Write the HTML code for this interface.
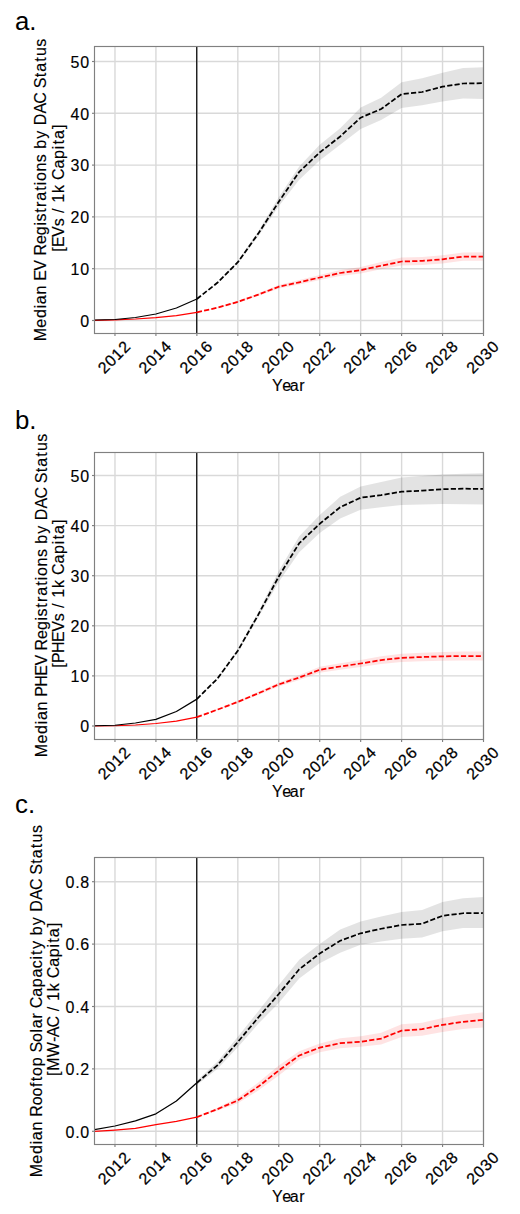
<!DOCTYPE html>
<html><head><meta charset="utf-8"><title>DAC Status Figure</title>
<style>
html,body{margin:0;padding:0;background:#fff;}
body{width:520px;height:1214px;overflow:hidden;}
svg{display:block;font-family:"Liberation Sans",sans-serif;}
text{stroke:#000;stroke-width:0.14;}
.xt{stroke-width:0.25;}
.g{stroke:#d9d9d9;stroke-width:1.4;fill:none;}
.gb{fill:#000;fill-opacity:0.11;stroke:none;}
.pb{fill:#f00;fill-opacity:0.11;stroke:none;}
.v{stroke:#000;stroke-width:1.2;}
.rs{fill:none;stroke:#ff0000;stroke-width:1.25;stroke-linejoin:round;}
.ks{fill:none;stroke:#000;stroke-width:1.25;stroke-linejoin:round;}
.rd{fill:none;stroke:#ff0000;stroke-width:1.75;stroke-dasharray:5.2 2.2;stroke-linejoin:round;}
.kd{fill:none;stroke:#000;stroke-width:1.75;stroke-dasharray:5.2 2.2;stroke-linejoin:round;}
.sp{fill:none;stroke:#808080;stroke-width:1.15;}
.tk{stroke:#808080;stroke-width:1.15;}
.yt{font-size:16px;fill:#000;}
.xt{font-size:16px;fill:#000;}
.xl{font-size:16px;fill:#000;}
.yl{font-size:16px;fill:#000;}
.lt{font-size:25.8px;fill:#000;stroke-width:0;}
</style></head>
<body>
<svg width="520" height="1214" viewBox="0 0 520 1214">
<rect x="0" y="0" width="520" height="1214" fill="#fff"/>
<line x1="114.97" y1="46.5" x2="114.97" y2="333.5" class="g"/>
<line x1="155.92" y1="46.5" x2="155.92" y2="333.5" class="g"/>
<line x1="196.87" y1="46.5" x2="196.87" y2="333.5" class="g"/>
<line x1="237.82" y1="46.5" x2="237.82" y2="333.5" class="g"/>
<line x1="278.76" y1="46.5" x2="278.76" y2="333.5" class="g"/>
<line x1="319.71" y1="46.5" x2="319.71" y2="333.5" class="g"/>
<line x1="360.66" y1="46.5" x2="360.66" y2="333.5" class="g"/>
<line x1="401.61" y1="46.5" x2="401.61" y2="333.5" class="g"/>
<line x1="442.55" y1="46.5" x2="442.55" y2="333.5" class="g"/>
<line x1="483.50" y1="46.5" x2="483.50" y2="333.5" class="g"/>
<line x1="94.5" y1="320.50" x2="483.5" y2="320.50" class="g"/>
<line x1="94.5" y1="268.70" x2="483.5" y2="268.70" class="g"/>
<line x1="94.5" y1="216.90" x2="483.5" y2="216.90" class="g"/>
<line x1="94.5" y1="165.10" x2="483.5" y2="165.10" class="g"/>
<line x1="94.5" y1="113.30" x2="483.5" y2="113.30" class="g"/>
<line x1="94.5" y1="61.50" x2="483.5" y2="61.50" class="g"/>
<path d="M196.87,299.00 L217.34,282.30 L237.82,260.90 L258.29,231.00 L278.76,197.30 L299.24,166.40 L319.71,144.80 L340.18,128.30 L360.66,107.60 L381.13,97.80 L401.61,82.30 L422.08,78.30 L442.55,72.70 L463.03,67.90 L483.50,67.30 L483.50,99.00 L463.03,98.40 L442.55,101.50 L422.08,105.20 L401.61,107.90 L381.13,120.00 L360.66,129.00 L340.18,144.80 L319.71,160.40 L299.24,179.80 L278.76,206.30 L258.29,236.20 L237.82,263.50 L217.34,283.30 L196.87,299.00Z" class="gb"/>
<path d="M196.87,312.30 L217.34,307.20 L237.82,300.90 L258.29,293.30 L278.76,285.00 L299.24,280.10 L319.71,274.90 L340.18,270.10 L360.66,267.00 L381.13,262.10 L401.61,257.60 L422.08,256.90 L442.55,255.20 L463.03,252.40 L483.50,252.20 L483.50,260.80 L463.03,260.80 L442.55,263.40 L422.08,264.90 L401.61,265.40 L381.13,269.30 L360.66,273.40 L340.18,275.90 L319.71,280.10 L299.24,284.50 L278.76,288.40 L258.29,295.90 L237.82,302.90 L217.34,308.20 L196.87,312.30Z" class="pb"/>
<line x1="196.75" y1="46.5" x2="196.75" y2="333.5" class="v"/>
<polyline points="94.50,320.30 114.97,319.80 135.45,319.00 155.92,317.60 176.39,315.60 196.87,312.30" class="rs"/>
<polyline points="196.87,312.30 217.34,307.70 237.82,301.90 258.29,294.60 278.76,286.70 299.24,282.30 319.71,277.50 340.18,273.00 360.66,270.20 381.13,265.70 401.61,261.50 422.08,260.90 442.55,259.30 463.03,256.60 483.50,256.50" class="rd"/>
<polyline points="94.50,320.00 114.97,319.50 135.45,317.50 155.92,314.00 176.39,308.00 196.87,299.00" class="ks"/>
<polyline points="196.87,299.00 217.34,282.80 237.82,262.20 258.29,233.60 278.76,201.80 299.24,171.80 319.71,152.50 340.18,136.50 360.66,117.70 381.13,109.00 401.61,94.10 422.08,92.00 442.55,86.70 463.03,83.50 483.50,83.20" class="kd"/>
<rect x="94.5" y="46.5" width="389.0" height="287.0" class="sp"/>
<line x1="114.97" y1="333.5" x2="114.97" y2="336.0" class="tk"/>
<line x1="155.92" y1="333.5" x2="155.92" y2="336.0" class="tk"/>
<line x1="196.87" y1="333.5" x2="196.87" y2="336.0" class="tk"/>
<line x1="237.82" y1="333.5" x2="237.82" y2="336.0" class="tk"/>
<line x1="278.76" y1="333.5" x2="278.76" y2="336.0" class="tk"/>
<line x1="319.71" y1="333.5" x2="319.71" y2="336.0" class="tk"/>
<line x1="360.66" y1="333.5" x2="360.66" y2="336.0" class="tk"/>
<line x1="401.61" y1="333.5" x2="401.61" y2="336.0" class="tk"/>
<line x1="442.55" y1="333.5" x2="442.55" y2="336.0" class="tk"/>
<line x1="483.50" y1="333.5" x2="483.50" y2="336.0" class="tk"/>
<line x1="92.0" y1="320.50" x2="94.5" y2="320.50" class="tk"/>
<line x1="92.0" y1="268.70" x2="94.5" y2="268.70" class="tk"/>
<line x1="92.0" y1="216.90" x2="94.5" y2="216.90" class="tk"/>
<line x1="92.0" y1="165.10" x2="94.5" y2="165.10" class="tk"/>
<line x1="92.0" y1="113.30" x2="94.5" y2="113.30" class="tk"/>
<line x1="92.0" y1="61.50" x2="94.5" y2="61.50" class="tk"/>
<text x="80.19" y="326.70" class="yt">0</text>
<text x="70.47 80.19" y="274.90" class="yt">10</text>
<text x="70.47 80.19" y="223.10" class="yt">20</text>
<text x="70.47 80.19" y="171.30" class="yt">30</text>
<text x="70.47 80.19" y="119.50" class="yt">40</text>
<text x="70.47 80.19" y="67.70" class="yt">50</text>
<text transform="translate(113.87,357.20) rotate(-45)" x="-19.03 -9.31 0.41 10.13" y="5.60" class="xt">2012</text>
<text transform="translate(154.82,357.20) rotate(-45)" x="-19.03 -9.31 0.41 10.13" y="5.60" class="xt">2014</text>
<text transform="translate(195.77,357.20) rotate(-45)" x="-19.03 -9.31 0.41 10.13" y="5.60" class="xt">2016</text>
<text transform="translate(236.72,357.20) rotate(-45)" x="-19.03 -9.31 0.41 10.13" y="5.60" class="xt">2018</text>
<text transform="translate(277.66,357.20) rotate(-45)" x="-19.03 -9.31 0.41 10.13" y="5.60" class="xt">2020</text>
<text transform="translate(318.61,357.20) rotate(-45)" x="-19.03 -9.31 0.41 10.13" y="5.60" class="xt">2022</text>
<text transform="translate(359.56,357.20) rotate(-45)" x="-19.03 -9.31 0.41 10.13" y="5.60" class="xt">2024</text>
<text transform="translate(400.51,357.20) rotate(-45)" x="-19.03 -9.31 0.41 10.13" y="5.60" class="xt">2026</text>
<text transform="translate(441.45,357.20) rotate(-45)" x="-19.03 -9.31 0.41 10.13" y="5.60" class="xt">2028</text>
<text transform="translate(482.40,357.20) rotate(-45)" x="-19.03 -9.31 0.41 10.13" y="5.60" class="xt">2030</text>
<text x="272.07 282.32 289.67 299.28" y="390.50" class="xl">Year</text>
<text transform="translate(45.9,190.0) rotate(-90)" x="-151.31 -137.70 -128.06 -118.36 -114.16 -104.55 -94.99 -90.78 -80.63 -69.79 -65.54 -54.11 -45.17 -35.46 -31.52 -22.70 -16.95 -10.84 -0.87 4.74 8.93 18.53 27.88 36.13 41.25 51.15 59.94 64.78 76.43 86.38 97.49 101.72 112.75 118.28 128.25 133.93 143.29" y="0.00" class="yl">Median EV Registrations by DAC Status</text>
<text transform="translate(63.75,188.2) rotate(-90)" x="-63.60 -58.84 -48.69 -38.07 -29.82 -24.77 -19.72 -14.59 -4.77 3.92 8.20 19.63 29.25 38.96 43.68 49.20 59.16" y="0.00" class="yl">[EVs / 1k Capita]</text>
<text x="15" y="30" class="lt">a.</text>
<line x1="114.97" y1="452.5" x2="114.97" y2="739.5" class="g"/>
<line x1="155.92" y1="452.5" x2="155.92" y2="739.5" class="g"/>
<line x1="196.87" y1="452.5" x2="196.87" y2="739.5" class="g"/>
<line x1="237.82" y1="452.5" x2="237.82" y2="739.5" class="g"/>
<line x1="278.76" y1="452.5" x2="278.76" y2="739.5" class="g"/>
<line x1="319.71" y1="452.5" x2="319.71" y2="739.5" class="g"/>
<line x1="360.66" y1="452.5" x2="360.66" y2="739.5" class="g"/>
<line x1="401.61" y1="452.5" x2="401.61" y2="739.5" class="g"/>
<line x1="442.55" y1="452.5" x2="442.55" y2="739.5" class="g"/>
<line x1="483.50" y1="452.5" x2="483.50" y2="739.5" class="g"/>
<line x1="94.5" y1="726.00" x2="483.5" y2="726.00" class="g"/>
<line x1="94.5" y1="675.90" x2="483.5" y2="675.90" class="g"/>
<line x1="94.5" y1="625.80" x2="483.5" y2="625.80" class="g"/>
<line x1="94.5" y1="575.70" x2="483.5" y2="575.70" class="g"/>
<line x1="94.5" y1="525.60" x2="483.5" y2="525.60" class="g"/>
<line x1="94.5" y1="475.50" x2="483.5" y2="475.50" class="g"/>
<path d="M196.87,699.10 L217.34,677.90 L237.82,648.90 L258.29,611.90 L278.76,571.00 L299.24,536.20 L319.71,515.00 L340.18,496.80 L360.66,486.40 L381.13,482.10 L401.61,477.50 L422.08,476.00 L442.55,474.50 L463.03,473.80 L483.50,473.30 L483.50,504.40 L463.03,504.20 L442.55,503.90 L422.08,504.50 L401.61,505.00 L381.13,507.20 L360.66,509.80 L340.18,518.40 L319.71,533.00 L299.24,552.30 L278.76,582.00 L258.29,617.50 L237.82,652.50 L217.34,679.50 L196.87,699.10Z" class="gb"/>
<path d="M196.87,717.10 L217.34,709.10 L237.82,700.80 L258.29,691.70 L278.76,682.40 L299.24,674.90 L319.71,666.80 L340.18,663.20 L360.66,659.90 L381.13,656.20 L401.61,653.70 L422.08,652.70 L442.55,651.90 L463.03,651.60 L483.50,651.60 L483.50,660.60 L463.03,660.60 L442.55,660.70 L422.08,661.30 L401.61,662.10 L381.13,664.00 L360.66,667.10 L340.18,669.80 L319.71,672.80 L299.24,680.10 L278.76,686.40 L258.29,694.90 L237.82,703.00 L217.34,710.30 L196.87,717.10Z" class="pb"/>
<line x1="196.75" y1="452.5" x2="196.75" y2="739.5" class="v"/>
<polyline points="94.50,726.00 114.97,725.75 135.45,725.00 155.92,723.50 176.39,721.10 196.87,717.10" class="rs"/>
<polyline points="196.87,717.10 217.34,709.70 237.82,701.90 258.29,693.30 278.76,684.40 299.24,677.50 319.71,669.80 340.18,666.50 360.66,663.50 381.13,660.10 401.61,657.90 422.08,657.00 442.55,656.30 463.03,656.10 483.50,656.10" class="rd"/>
<polyline points="94.50,725.75 114.97,725.25 135.45,723.00 155.92,719.30 176.39,711.50 196.87,699.10" class="ks"/>
<polyline points="196.87,699.10 217.34,678.70 237.82,650.70 258.29,614.70 278.76,576.50 299.24,543.20 319.71,523.80 340.18,507.20 360.66,497.70 381.13,495.10 401.61,491.70 422.08,490.60 442.55,489.20 463.03,488.70 483.50,488.90" class="kd"/>
<rect x="94.5" y="452.5" width="389.0" height="287.0" class="sp"/>
<line x1="114.97" y1="739.5" x2="114.97" y2="742.0" class="tk"/>
<line x1="155.92" y1="739.5" x2="155.92" y2="742.0" class="tk"/>
<line x1="196.87" y1="739.5" x2="196.87" y2="742.0" class="tk"/>
<line x1="237.82" y1="739.5" x2="237.82" y2="742.0" class="tk"/>
<line x1="278.76" y1="739.5" x2="278.76" y2="742.0" class="tk"/>
<line x1="319.71" y1="739.5" x2="319.71" y2="742.0" class="tk"/>
<line x1="360.66" y1="739.5" x2="360.66" y2="742.0" class="tk"/>
<line x1="401.61" y1="739.5" x2="401.61" y2="742.0" class="tk"/>
<line x1="442.55" y1="739.5" x2="442.55" y2="742.0" class="tk"/>
<line x1="483.50" y1="739.5" x2="483.50" y2="742.0" class="tk"/>
<line x1="92.0" y1="726.00" x2="94.5" y2="726.00" class="tk"/>
<line x1="92.0" y1="675.90" x2="94.5" y2="675.90" class="tk"/>
<line x1="92.0" y1="625.80" x2="94.5" y2="625.80" class="tk"/>
<line x1="92.0" y1="575.70" x2="94.5" y2="575.70" class="tk"/>
<line x1="92.0" y1="525.60" x2="94.5" y2="525.60" class="tk"/>
<line x1="92.0" y1="475.50" x2="94.5" y2="475.50" class="tk"/>
<text x="80.19" y="732.20" class="yt">0</text>
<text x="70.47 80.19" y="682.10" class="yt">10</text>
<text x="70.47 80.19" y="632.00" class="yt">20</text>
<text x="70.47 80.19" y="581.90" class="yt">30</text>
<text x="70.47 80.19" y="531.80" class="yt">40</text>
<text x="70.47 80.19" y="481.70" class="yt">50</text>
<text transform="translate(113.87,763.20) rotate(-45)" x="-19.03 -9.31 0.41 10.13" y="5.60" class="xt">2012</text>
<text transform="translate(154.82,763.20) rotate(-45)" x="-19.03 -9.31 0.41 10.13" y="5.60" class="xt">2014</text>
<text transform="translate(195.77,763.20) rotate(-45)" x="-19.03 -9.31 0.41 10.13" y="5.60" class="xt">2016</text>
<text transform="translate(236.72,763.20) rotate(-45)" x="-19.03 -9.31 0.41 10.13" y="5.60" class="xt">2018</text>
<text transform="translate(277.66,763.20) rotate(-45)" x="-19.03 -9.31 0.41 10.13" y="5.60" class="xt">2020</text>
<text transform="translate(318.61,763.20) rotate(-45)" x="-19.03 -9.31 0.41 10.13" y="5.60" class="xt">2022</text>
<text transform="translate(359.56,763.20) rotate(-45)" x="-19.03 -9.31 0.41 10.13" y="5.60" class="xt">2024</text>
<text transform="translate(400.51,763.20) rotate(-45)" x="-19.03 -9.31 0.41 10.13" y="5.60" class="xt">2026</text>
<text transform="translate(441.45,763.20) rotate(-45)" x="-19.03 -9.31 0.41 10.13" y="5.60" class="xt">2028</text>
<text transform="translate(482.40,763.20) rotate(-45)" x="-19.03 -9.31 0.41 10.13" y="5.60" class="xt">2030</text>
<text x="272.07 282.32 289.67 299.28" y="796.50" class="xl">Year</text>
<text transform="translate(46.8,595.4) rotate(-90)" x="-161.76 -148.15 -138.51 -128.81 -124.61 -115.00 -105.44 -101.45 -91.44 -80.33 -70.19 -59.35 -55.10 -43.67 -34.72 -25.01 -21.08 -12.26 -6.51 -0.40 9.57 15.18 19.37 28.98 38.33 46.57 51.69 61.60 70.39 75.22 86.87 96.82 107.94 112.17 123.20 128.72 138.69 144.38 153.73" y="0.00" class="yl">Median PHEV Registrations by DAC Status</text>
<text transform="translate(63.6,593.6) rotate(-90)" x="-74.05 -69.51 -59.51 -48.39 -38.25 -27.62 -19.38 -14.33 -9.28 -4.15 5.67 14.36 18.64 30.08 39.70 49.40 54.12 59.65 69.60" y="0.00" class="yl">[PHEVs / 1k Capita]</text>
<text x="15" y="428.5" class="lt">b.</text>
<line x1="114.97" y1="857.5" x2="114.97" y2="1144.5" class="g"/>
<line x1="155.92" y1="857.5" x2="155.92" y2="1144.5" class="g"/>
<line x1="196.87" y1="857.5" x2="196.87" y2="1144.5" class="g"/>
<line x1="237.82" y1="857.5" x2="237.82" y2="1144.5" class="g"/>
<line x1="278.76" y1="857.5" x2="278.76" y2="1144.5" class="g"/>
<line x1="319.71" y1="857.5" x2="319.71" y2="1144.5" class="g"/>
<line x1="360.66" y1="857.5" x2="360.66" y2="1144.5" class="g"/>
<line x1="401.61" y1="857.5" x2="401.61" y2="1144.5" class="g"/>
<line x1="442.55" y1="857.5" x2="442.55" y2="1144.5" class="g"/>
<line x1="483.50" y1="857.5" x2="483.50" y2="1144.5" class="g"/>
<line x1="94.5" y1="1131.30" x2="483.5" y2="1131.30" class="g"/>
<line x1="94.5" y1="1068.90" x2="483.5" y2="1068.90" class="g"/>
<line x1="94.5" y1="1006.50" x2="483.5" y2="1006.50" class="g"/>
<line x1="94.5" y1="944.10" x2="483.5" y2="944.10" class="g"/>
<line x1="94.5" y1="881.70" x2="483.5" y2="881.70" class="g"/>
<path d="M196.87,1080.60 L217.34,1061.70 L237.82,1036.70 L258.29,1011.20 L278.76,985.00 L299.24,959.80 L319.71,944.00 L340.18,929.40 L360.66,921.40 L381.13,916.50 L401.61,912.00 L422.08,910.00 L442.55,902.00 L463.03,898.25 L483.50,897.00 L483.50,928.00 L463.03,928.00 L442.55,931.25 L422.08,937.50 L401.61,938.75 L381.13,941.50 L360.66,944.80 L340.18,952.80 L319.71,963.20 L299.24,978.60 L278.76,1003.00 L258.29,1023.80 L237.82,1047.30 L217.34,1068.90 L196.87,1085.00Z" class="gb"/>
<path d="M196.87,1116.60 L217.34,1107.70 L237.82,1097.60 L258.29,1082.60 L278.76,1065.50 L299.24,1051.20 L319.71,1043.40 L340.18,1038.20 L360.66,1036.30 L381.13,1032.80 L401.61,1024.20 L422.08,1022.70 L442.55,1017.90 L463.03,1014.50 L483.50,1012.30 L483.50,1027.50 L463.03,1029.10 L442.55,1031.90 L422.08,1035.70 L401.61,1036.90 L381.13,1044.40 L360.66,1046.70 L340.18,1048.20 L319.71,1052.30 L299.24,1059.70 L278.76,1075.50 L258.29,1090.60 L237.82,1103.20 L217.34,1110.70 L196.87,1117.60Z" class="pb"/>
<line x1="196.75" y1="857.5" x2="196.75" y2="1144.5" class="v"/>
<polyline points="94.50,1131.40 114.97,1130.10 135.45,1128.40 155.92,1124.60 176.39,1121.30 196.87,1117.10" class="rs"/>
<polyline points="196.87,1117.10 217.34,1109.20 237.82,1100.40 258.29,1086.60 278.76,1070.50 299.24,1055.50 319.71,1047.60 340.18,1043.20 360.66,1041.80 381.13,1038.60 401.61,1030.60 422.08,1029.20 442.55,1024.90 463.03,1021.80 483.50,1019.70" class="rd"/>
<polyline points="94.50,1129.60 114.97,1126.00 135.45,1120.80 155.92,1113.80 176.39,1101.00 196.87,1082.80" class="ks"/>
<polyline points="196.87,1082.80 217.34,1065.30 237.82,1042.00 258.29,1017.50 278.76,994.00 299.24,969.30 319.71,953.50 340.18,940.70 360.66,933.30 381.13,928.75 401.61,925.00 422.08,923.75 442.55,915.75 463.03,913.25 483.50,913.00" class="kd"/>
<rect x="94.5" y="857.5" width="389.0" height="287.0" class="sp"/>
<line x1="114.97" y1="1144.5" x2="114.97" y2="1147.0" class="tk"/>
<line x1="155.92" y1="1144.5" x2="155.92" y2="1147.0" class="tk"/>
<line x1="196.87" y1="1144.5" x2="196.87" y2="1147.0" class="tk"/>
<line x1="237.82" y1="1144.5" x2="237.82" y2="1147.0" class="tk"/>
<line x1="278.76" y1="1144.5" x2="278.76" y2="1147.0" class="tk"/>
<line x1="319.71" y1="1144.5" x2="319.71" y2="1147.0" class="tk"/>
<line x1="360.66" y1="1144.5" x2="360.66" y2="1147.0" class="tk"/>
<line x1="401.61" y1="1144.5" x2="401.61" y2="1147.0" class="tk"/>
<line x1="442.55" y1="1144.5" x2="442.55" y2="1147.0" class="tk"/>
<line x1="483.50" y1="1144.5" x2="483.50" y2="1147.0" class="tk"/>
<line x1="92.0" y1="1131.30" x2="94.5" y2="1131.30" class="tk"/>
<line x1="92.0" y1="1068.90" x2="94.5" y2="1068.90" class="tk"/>
<line x1="92.0" y1="1006.50" x2="94.5" y2="1006.50" class="tk"/>
<line x1="92.0" y1="944.10" x2="94.5" y2="944.10" class="tk"/>
<line x1="92.0" y1="881.70" x2="94.5" y2="881.70" class="tk"/>
<text x="65.61 75.13 80.19" y="1137.50" class="yt">0.0</text>
<text x="65.61 75.13 80.19" y="1075.10" class="yt">0.2</text>
<text x="65.61 75.13 80.19" y="1012.70" class="yt">0.4</text>
<text x="65.61 75.13 80.19" y="950.30" class="yt">0.6</text>
<text x="65.61 75.13 80.19" y="887.90" class="yt">0.8</text>
<text transform="translate(113.87,1168.20) rotate(-45)" x="-19.03 -9.31 0.41 10.13" y="5.60" class="xt">2012</text>
<text transform="translate(154.82,1168.20) rotate(-45)" x="-19.03 -9.31 0.41 10.13" y="5.60" class="xt">2014</text>
<text transform="translate(195.77,1168.20) rotate(-45)" x="-19.03 -9.31 0.41 10.13" y="5.60" class="xt">2016</text>
<text transform="translate(236.72,1168.20) rotate(-45)" x="-19.03 -9.31 0.41 10.13" y="5.60" class="xt">2018</text>
<text transform="translate(277.66,1168.20) rotate(-45)" x="-19.03 -9.31 0.41 10.13" y="5.60" class="xt">2020</text>
<text transform="translate(318.61,1168.20) rotate(-45)" x="-19.03 -9.31 0.41 10.13" y="5.60" class="xt">2022</text>
<text transform="translate(359.56,1168.20) rotate(-45)" x="-19.03 -9.31 0.41 10.13" y="5.60" class="xt">2024</text>
<text transform="translate(400.51,1168.20) rotate(-45)" x="-19.03 -9.31 0.41 10.13" y="5.60" class="xt">2026</text>
<text transform="translate(441.45,1168.20) rotate(-45)" x="-19.03 -9.31 0.41 10.13" y="5.60" class="xt">2028</text>
<text transform="translate(482.40,1168.20) rotate(-45)" x="-19.03 -9.31 0.41 10.13" y="5.60" class="xt">2030</text>
<text x="272.07 282.32 289.67 299.28" y="1201.70" class="xl">Year</text>
<text transform="translate(42.1,1001.2) rotate(-90)" x="-176.11 -162.50 -152.86 -143.15 -138.96 -129.35 -119.78 -115.53 -104.13 -95.38 -85.73 -79.99 -74.75 -65.14 -55.56 -51.33 -40.83 -31.30 -27.11 -17.43 -11.37 -7.09 4.35 13.97 23.59 33.00 41.60 46.32 52.13 60.92 66.04 75.95 84.74 89.57 101.22 111.17 122.29 126.52 137.55 143.07 153.04 158.73 168.08" y="0.00" class="yl">Median Rooftop Solar Capacity by DAC Status</text>
<text transform="translate(58.75,999.4) rotate(-90)" x="-76.54 -71.32 -57.93 -42.64 -37.88 -28.00 -16.89 -11.84 -6.79 -1.66 8.16 16.85 21.13 32.57 42.19 51.90 56.62 62.14 72.10" y="0.00" class="yl">[MW-AC / 1k Capita]</text>
<text x="15" y="812.5" class="lt">c.</text>
</svg>
</body></html>
